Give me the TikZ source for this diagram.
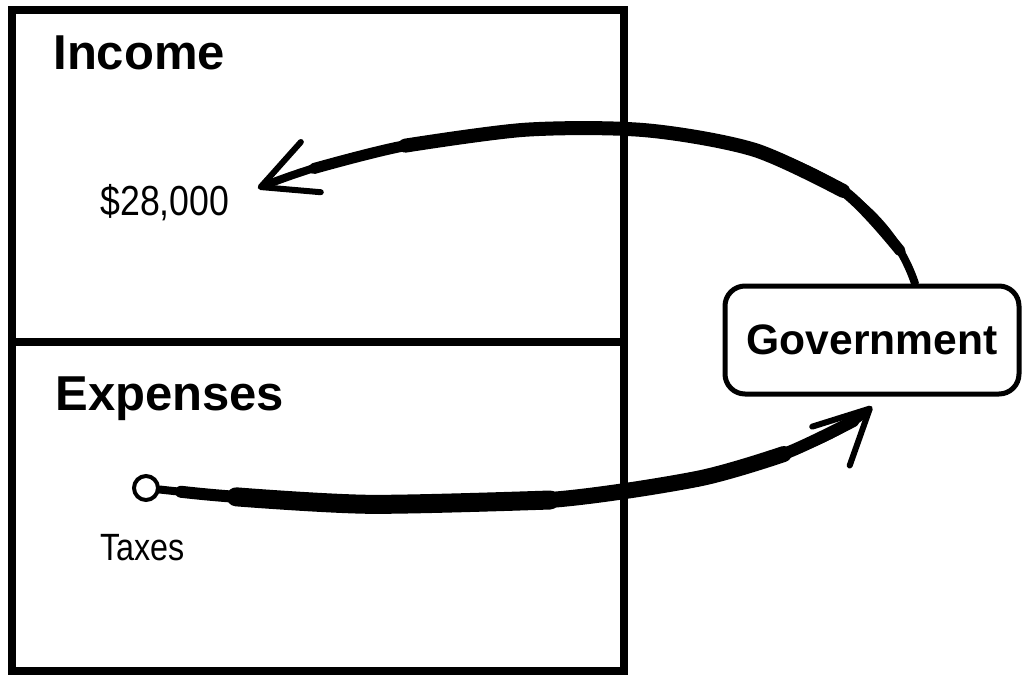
\documentclass[tikz,border=0pt]{standalone}
\usepackage{fontspec}
\setmainfont{Liberation Sans}
\newfontfamily\narrowfont[FakeStretch=0.85]{Liberation Sans}
\usetikzlibrary{arrows.meta}

\begin{document}
\begin{tikzpicture}[x=0.5pt,y=-0.5pt]
    \tikzstyle{heading}=[anchor=base west,inner sep=0pt,font=\fontsize{24.5}{29}\selectfont\bfseries]
    \tikzstyle{item}=[anchor=base west,inner sep=0pt,font=\fontsize{21}{25}\selectfont\narrowfont]
    \tikzstyle{panel}=[line width=4pt]
    \tikzstyle{agent}=[draw,line width=2.5pt,rounded corners=10pt,minimum width=147pt,minimum height=54pt,font=\fontsize{21.3}{25}\selectfont\bfseries]
    \tikzstyle{ring}=[draw,circle,line width=2pt,minimum size=12pt,inner sep=0pt]
    \tikzstyle{brush}=[line width=4pt,line cap=round,-{Straight Barb[length=27pt,width=27pt,line width=3pt,round]}]
    \tikzstyle{brushcore}=[line width=5.5pt,line cap=round,line join=round]

    \useasboundingbox (0,0) rectangle (1024,675);

    \node[heading] (income) at (53,69) {Income};
    \node[item] (amount) at (100,215) {\$28,000};
    \node[heading] (expenses) at (55,410) {Expenses};
    \node[ring] (taxdot) at (146,488) {};
    \node[item,font=\fontsize{19}{22}\selectfont\narrowfont] (taxes) at (100,560) {Taxes};
    \node[agent] (gov) at (872,340) {Government};

    \draw[brush] ([xshift=21.5pt]gov.north) .. controls (850,90) and (480,100) .. ([xshift=14pt,yshift=7pt]amount.east)
        coordinate[pos=0.06] (up0) coordinate[pos=0.2] (up1) coordinate[pos=0.35] (up2) coordinate[pos=0.5] (up3)
        coordinate[pos=0.65] (up4) coordinate[pos=0.8] (up5) coordinate[pos=0.92] (up6);
    \draw[brushcore] plot[smooth] coordinates {(up0) (up1) (up2) (up3) (up4) (up5) (up6)};
    \draw[brushcore,line width=7pt] plot[smooth] coordinates {(up1) (up2) (up3) (up4) (up5)};

    \draw[brush] (taxdot) .. controls (300,505) and (450,510) .. (550,500)
        coordinate[pos=0.05] (lo0) coordinate[pos=0.18] (lo1) coordinate[pos=0.5] (lo2)
        .. controls (700,490) and (830,447) .. ([yshift=-5pt]gov.south)
        coordinate[pos=0.35] (lo3) coordinate[pos=0.6] (lo4) coordinate[pos=0.88] (lo5);
    \draw[brushcore,line width=6pt] plot[smooth] coordinates {(lo0) (lo1) (lo2) (550,500) (lo3) (lo4) (lo5)};
    \draw[brushcore,line width=8pt] plot[smooth] coordinates {(lo1) (lo2) (550,500) (lo3) (lo4)};
    \draw[brushcore,line width=9.5pt] plot[smooth] coordinates {(lo1) (lo2) (550,500)};

    \draw[panel] (12,10) rectangle (624,671);
    \draw[panel] (12,342) -- (624,342);
\end{tikzpicture}
\end{document}
